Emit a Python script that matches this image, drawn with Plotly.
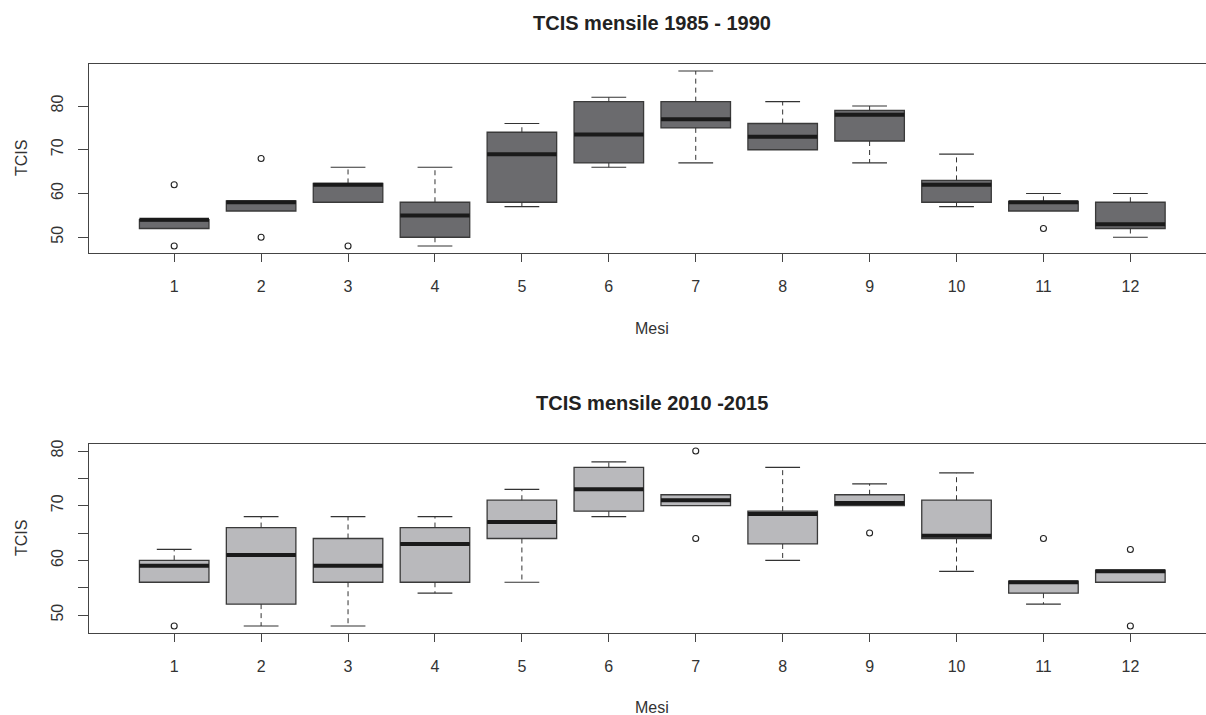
import plotly.graph_objects as go

months = list(range(1, 13))
month_labels = [str(m) for m in months]

# Panel 1: TCIS mensile 1985 - 1990 (box statistics)
p1_lo  = [52, 56, 58, 48, 57, 66, 67, 70, 67, 57, 56, 50]
p1_q1  = [52, 56, 58, 50, 58, 67, 75, 70, 72, 58, 56, 52]
p1_med = [54, 58, 62, 55, 69, 73.5, 77, 73, 78, 62, 58, 53]
p1_q3  = [54, 58.3, 62.3, 58, 74, 81, 81, 76, 79, 63, 58.2, 58]
p1_hi  = [54, 58.3, 66, 66, 76, 82, 88, 81, 80, 69, 60, 60]
p1_out_x = [1, 1, 2, 2, 3, 11]
p1_out_y = [62, 48, 68, 50, 48, 52]

# Panel 2: TCIS mensile 2010 - 2015
p2_lo  = [56, 48, 48, 54, 56, 68, 70, 60, 70, 58, 52, 56]
p2_q1  = [56, 52, 56, 56, 64, 69, 70, 63, 70, 64, 54, 56]
p2_med = [59, 61, 59, 63, 67, 73, 71, 68.5, 70.5, 64.5, 56, 58]
p2_q3  = [60, 66, 64, 66, 71, 77, 72, 69, 72, 71, 56.2, 58.2]
p2_hi  = [62, 68, 68, 68, 73, 78, 72, 77, 74, 76, 56.2, 58.2]
p2_out_x = [1, 7, 7, 9, 11, 12, 12]
p2_out_y = [48, 80, 64, 65, 64, 62, 48]

titles = ["TCIS mensile 1985 - 1990", "TCIS mensile 2010 -2015"]
fills = ["#6b6b6e", "#b9b9bc"]

W, H = 1206, 715
L, T, B = 89, 64, 82
PH = H - T - B
def py(ypix):
    return (H - B - ypix) / PH
def px(xpix):
    return (xpix - L) / (W - L)

fig = go.Figure()
panels = [
    (p1_lo, p1_q1, p1_med, p1_q3, p1_hi, p1_out_x, p1_out_y, "x", "y"),
    (p2_lo, p2_q1, p2_med, p2_q3, p2_hi, p2_out_x, p2_out_y, "x2", "y2"),
]
BW = 0.8
CAP = 0.2
for k, (lo, q1, med, q3, hi, ox, oy, xa, ya) in enumerate(panels):
    fig.add_trace(go.Box(
        x=months, q1=q1, median=med, q3=q3, lowerfence=q1, upperfence=q3,
        width=BW, fillcolor=fills[k], line=dict(color="#3a3a3a", width=1.3),
        boxpoints=False, hoverinfo="skip", showlegend=False, xaxis=xa, yaxis=ya))
    wx, wy = [], []
    cx, cy = [], []
    mx, my = [], []
    for m, a, b, c, d, e in zip(months, lo, q1, med, q3, hi):
        if e > d:
            wx += [m, m, None]; wy += [d, e, None]
            cx += [m - CAP, m + CAP, None]; cy += [e, e, None]
        if a < b:
            wx += [m, m, None]; wy += [b, a, None]
            cx += [m - CAP, m + CAP, None]; cy += [a, a, None]
        mx += [m - BW / 2, m + BW / 2, None]; my += [c, c, None]
    fig.add_trace(go.Scatter(x=wx, y=wy, mode="lines", line=dict(color="#333", width=1, dash="5px,4px"),
                             showlegend=False, hoverinfo="skip", xaxis=xa, yaxis=ya))
    fig.add_trace(go.Scatter(x=cx, y=cy, mode="lines", line=dict(color="#333", width=1.2),
                             showlegend=False, hoverinfo="skip", xaxis=xa, yaxis=ya))
    fig.add_trace(go.Scatter(x=mx, y=my, mode="lines", line=dict(color="#1a1a1a", width=4),
                             showlegend=False, hoverinfo="skip", xaxis=xa, yaxis=ya))
    fig.add_trace(go.Scatter(x=ox, y=oy, mode="markers",
                             marker=dict(symbol="circle-open", size=6, color="#222", line=dict(width=1.1)),
                             showlegend=False, hoverinfo="skip", xaxis=xa, yaxis=ya))

top_dom = [py(253), 1.0]
bot_dom = [0.0, py(444)]

axis_font = dict(family="Liberation Sans, Arial, sans-serif", size=16, color="#333")
common_x = dict(range=[0.02, 12.87], tickmode="array", tickvals=months, ticktext=month_labels,
                showline=True, linecolor="#444", linewidth=1.3, mirror=True, ticks="outside",
                ticklen=8, tickcolor="#444", tickfont=axis_font, showgrid=False, zeroline=False,
                ticklabelstandoff=11)
common_y = dict(showline=True, linecolor="#444", linewidth=1.3, ticks="outside", ticklen=10,
                tickcolor="#444", tickfont=axis_font, tickangle=-90, showgrid=False, zeroline=False,
                ticklabelstandoff=8)

fig.update_layout(
    width=W, height=H, margin=dict(l=L, r=0, t=T, b=B),
    plot_bgcolor="white", paper_bgcolor="white",
    xaxis=dict(domain=[0, 1], anchor="y", **common_x),
    yaxis=dict(domain=top_dom, anchor="x", range=[46.4, 89.6], tickvals=[50, 60, 70, 80],
               ticktext=["50", "60", "70", "80"], **common_y),
    xaxis2=dict(domain=[0, 1], anchor="y2", **common_x),
    yaxis2=dict(domain=bot_dom, anchor="x2", range=[46.72, 81.28],
                tickvals=[50, 55, 60, 65, 70, 75, 80], ticktext=["50", "", "60", "", "70", "", "80"],
                **common_y),
)

title_font = dict(family="Liberation Sans, Arial, sans-serif", size=20, color="#222")
lab_font = dict(family="Liberation Sans, Arial, sans-serif", size=16, color="#333")
ann = []
for t, yp in zip(titles, [23, 403]):
    ann.append(dict(text="<b>" + t + "</b>", x=px(652), y=py(yp), xref="paper", yref="paper",
                    showarrow=False, font=title_font, xanchor="center", yanchor="middle"))
for yp in [328, 707]:
    ann.append(dict(text="Mesi", x=px(652), y=py(yp), xref="paper", yref="paper",
                    showarrow=False, font=lab_font, xanchor="center", yanchor="middle"))
for yp in [158, 538]:
    ann.append(dict(text="TCIS", x=px(21), y=py(yp), xref="paper", yref="paper", textangle=-90,
                    showarrow=False, font=lab_font, xanchor="center", yanchor="middle"))
fig.update_layout(annotations=ann)

fig.write_html("out.html", config={"displayModeBar": False},
               post_script="document.body.style.margin='0';document.body.style.overflow='hidden';")
